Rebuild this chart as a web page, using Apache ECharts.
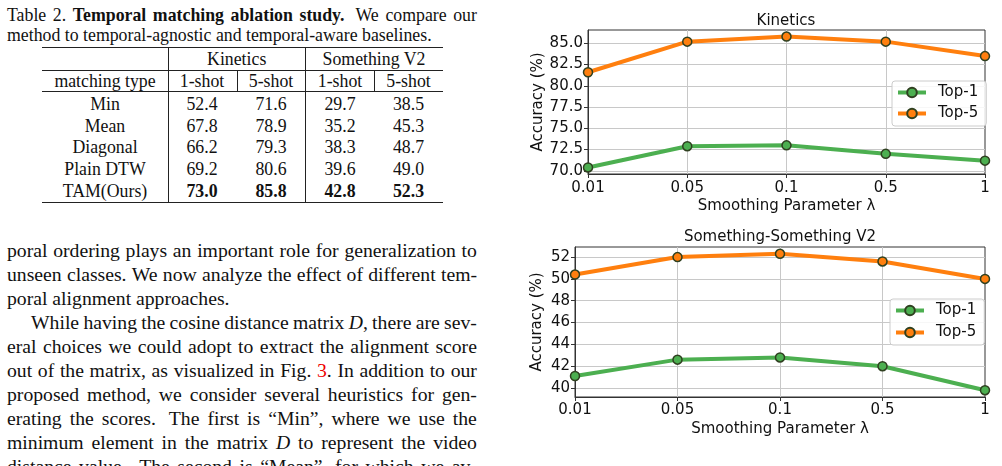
<!DOCTYPE html>
<html>
<head>
<meta charset="utf-8">
<script src="https://cdn.jsdelivr.net/npm/echarts@6/dist/echarts.min.js"></script>
<style>
  html, body { margin: 0; padding: 0; background: #fff; width: 1002px; height: 466px; overflow: hidden; }
  #page { position: relative; width: 1002px; height: 466px; font-family: "Liberation Serif", "Times New Roman", serif; color: #111; }
  .ln { position: absolute; left: 7px; width: 470px; white-space: nowrap; }
  .jl { display: flex; justify-content: space-between; }
  .cap { font-size: 17.8px; line-height: 20px; height: 20px; }
  .body { font-size: 19.7px; line-height: 24px; height: 24px; }
  .cell { position: absolute; width: 140px; text-align: center; font-size: 17.8px; line-height: 20px; white-space: nowrap; }
  .rule { position: absolute; background: #222; }
  r { color: #e00; }
  #chart { position: absolute; left: 500px; top: 0; width: 502px; height: 466px; }
</style>
</head>
<body>
<div id="page">
  <div id="chart"></div>
</div>
<script>
// table data
const tableMethods = ["Min", "Mean", "Diagonal", "Plain DTW", "TAM(Ours)"];
const kin1shot = [52.4, 67.8, 66.2, 69.2, 73.0];
const kin5shot = [71.6, 78.9, 79.3, 80.6, 85.8];
const ss1shot = [29.7, 35.2, 38.3, 39.6, 42.8];
const ss5shot = [38.5, 45.3, 48.7, 49.0, 52.3];

// chart data
const lambdas = ["0.01", "0.05", "0.1", "0.5", "1"];
const kinTop1 = [70.4, 72.9, 73.0, 72.0, 71.2];
const kinTop5 = [81.6, 85.2, 85.8, 85.2, 83.5];
const ssTop1 = [41.1, 42.6, 42.8, 42.0, 39.8];
const ssTop5 = [50.4, 52.0, 52.3, 51.6, 50.0];
const kinTicks = [70, 72.5, 75, 77.5, 80, 82.5, 85];
const ssTicks = [40, 42, 44, 46, 48, 50, 52];

const page = document.getElementById("page");

// one text line; words are spread over the full width unless left aligned
function addLine(words, top, cls, justify, indent) {
  const d = document.createElement("div");
  d.className = "ln " + cls + (justify ? " jl" : "");
  d.style.top = top + "px";
  if (indent) {
    d.style.left = (7 + indent) + "px";
    d.style.width = (470 - indent) + "px";
  }
  if (justify) {
    d.innerHTML = words.split(" ").map(w => "<span>" + w + "</span>").join("");
  } else {
    d.innerHTML = words;
  }
  page.appendChild(d);
}

addLine("Table 2. <b>Temporal</b> <b>matching</b> <b>ablation</b> <b>study.</b> &nbsp;We compare our", 5, "cap", true);
addLine("method to temporal-agnostic and temporal-aware baselines.", 25, "cap", false);

const bodyLines = [
  ["poral ordering plays an important role for generalization to", true, 0],
  ["unseen classes. We now analyze the effect of different tem-", true, 0],
  ["poral alignment approaches.", false, 0],
  ["While having the cosine distance matrix <i>D</i>, there are sev-", true, 24],
  ["eral choices we could adopt to extract the alignment score", true, 0],
  ["out of the matrix, as visualized in Fig. <r>3</r>. In addition to our", true, 0],
  ["proposed method, we consider several heuristics for gen-", true, 0],
  ["erating the scores. &nbsp;The first is “Min”, where we use the", true, 0],
  ["minimum element in the matrix <i>D</i> to represent the video", true, 0],
  ["distance value. &nbsp;The second is “Mean”, for which we av-", true, 0]
];
bodyLines.forEach((l, i) => addLine(l[0], 238 + i * 24, "body", l[1], l[2]));

// table
function cell(text, cx, cy, bold) {
  const d = document.createElement("div");
  d.className = "cell";
  d.style.left = (cx - 70) + "px";
  d.style.top = (cy - 10) + "px";
  if (bold) d.style.fontWeight = "bold";
  d.textContent = text;
  page.appendChild(d);
}
function rule(x, y, w, h) {
  const d = document.createElement("div");
  d.className = "rule";
  d.style.left = x + "px"; d.style.top = y + "px";
  d.style.width = w + "px"; d.style.height = h + "px";
  page.appendChild(d);
}
const colX = [105, 202, 271, 340, 408.5];
cell("Kinetics", 236.7, 58.5);
cell("Something V2", 374, 58.5);
["matching type", "1-shot", "5-shot", "1-shot", "5-shot"].forEach((t, i) => cell(t, colX[i], 81));
const rowY = [103.5, 125.5, 147.3, 169, 191];
tableMethods.forEach((m, r) => {
  const bold = r === tableMethods.length - 1;
  cell(m, colX[0], rowY[r]);
  [kin1shot, kin5shot, ss1shot, ss5shot].forEach((col, c) => cell(col[r].toFixed(1), colX[c + 1], rowY[r], bold));
});
[47, 69.5, 91, 202].forEach(y => rule(42, y, 401, 1));
rule(168, 47, 1, 156);
rule(305, 47, 1, 156);
rule(236.5, 69.5, 1, 22);
rule(374, 69.5, 1, 22);

// charts
const FONT = "DejaVu Sans";
const GREEN = "#4caf50";
const ORANGE = "#ff7f0e";
const EDGE = "#2f4020";
const GRIDLINE = "#c8c8c8";
const SPINE = "#333";

function padRange(a, b) {
  const all = a.concat(b);
  const lo = Math.min(...all), hi = Math.max(...all);
  const m = (hi - lo) * 0.05;
  return [lo - m, hi + m];
}
const kinRange = padRange(kinTop1, kinTop5);
const ssRange = padRange(ssTop1, ssTop5);

function xAxis(gridIndex, labelMargin, nameGap) {
  return {
    type: "category", gridIndex: gridIndex, data: lambdas, boundaryGap: false,
    name: "Smoothing Parameter λ", nameLocation: "middle", nameGap: nameGap, nameMoveOverlap: false,
    nameTextStyle: { fontSize: 15, color: "#111", fontFamily: FONT },
    axisLine: { show: true, onZero: false, lineStyle: { color: SPINE, width: 1 } },
    axisTick: { show: true, length: 4, lineStyle: { color: SPINE } },
    axisLabel: { interval: 0, fontSize: 15, color: "#111", margin: labelMargin, fontFamily: FONT },
    splitLine: { show: true, showMinLine: false, showMaxLine: false, lineStyle: { color: GRIDLINE, width: 1 } }
  };
}
function yAxis(gridIndex, ticks, range, digits, nameGap) {
  return {
    type: "value", gridIndex: gridIndex, min: range[0], max: range[1],
    name: "Accuracy (%)", nameLocation: "middle", nameGap: nameGap, nameMoveOverlap: false,
    nameTextStyle: { fontSize: 15, color: "#111", fontFamily: FONT },
    axisLine: { show: true, lineStyle: { color: SPINE, width: 1 } },
    axisTick: { show: true, length: 4, customValues: ticks, lineStyle: { color: SPINE } },
    axisLabel: { customValues: ticks, formatter: v => Number(v).toFixed(digits), fontSize: 15, color: "#111", margin: 5, fontFamily: FONT },
    splitLine: { show: true, lineStyle: { color: GRIDLINE, width: 1 } }
  };
}
function lineSeries(name, data, color, idx) {
  return {
    type: "line", name: name, data: data, xAxisIndex: idx, yAxisIndex: idx,
    symbol: "circle", symbolSize: 9, showAllSymbol: true,
    lineStyle: { width: 4, color: color },
    itemStyle: { color: color, borderColor: EDGE, borderWidth: 1.5 },
    emphasis: { disabled: true }
  };
}
function legend(left, top, gap) {
  return {
    data: ["Top-1", "Top-5"], orient: "vertical", left: left, top: top,
    padding: [4, 8, 5, 4], itemWidth: 28, itemHeight: 12, itemGap: gap,
    lineStyle: { width: 4 },
    backgroundColor: "rgba(255,255,255,0.85)", borderColor: "#cccccc", borderWidth: 1, borderRadius: 3,
    textStyle: { fontSize: 15, color: "#111", fontFamily: FONT, padding: [0, 0, 0, 7] }
  };
}
const titleStyle = { fontSize: 15, fontWeight: "normal", color: "#111", fontFamily: FONT };

const chart = echarts.init(document.getElementById("chart"));
chart.setOption({
  animation: false,
  title: [
    { text: "Kinetics", left: 286, top: 14, textAlign: "center", padding: 0, textStyle: titleStyle },
    { text: "Something-Something V2", left: 280, top: 230, textAlign: "center", padding: 0, textStyle: titleStyle }
  ],
  legend: [legend(392, 81, 6), legend(390, 299, 7)],
  grid: [
    { left: 88, top: 30, width: 397, height: 144, show: true, borderColor: SPINE, borderWidth: 1, outerBoundsMode: "none" },
    { left: 75, top: 247, width: 410, height: 150, show: true, borderColor: SPINE, borderWidth: 1, outerBoundsMode: "none" }
  ],
  xAxis: [xAxis(0, 7, 25), xAxis(1, 6, 25)],
  yAxis: [yAxis(0, kinTicks, kinRange, 1, 42), yAxis(1, ssTicks, ssRange, 0, 30)],
  series: [
    lineSeries("Top-1", kinTop1, GREEN, 0),
    lineSeries("Top-5", kinTop5, ORANGE, 0),
    lineSeries("Top-1", ssTop1, GREEN, 1),
    lineSeries("Top-5", ssTop5, ORANGE, 1)
  ]
});
</script>
</body>
</html>
